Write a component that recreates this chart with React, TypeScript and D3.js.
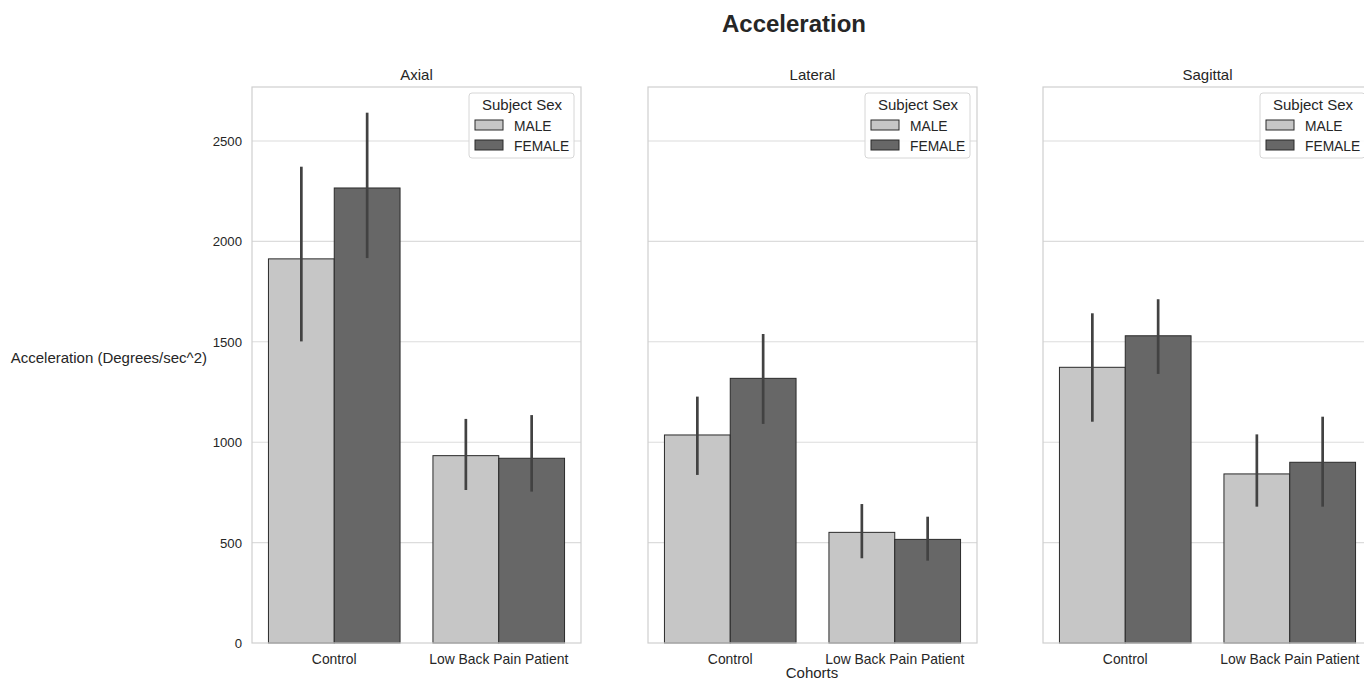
import React from "react";
import * as d3 from "d3";

const panels = ["Axial", "Lateral", "Sagittal"];
const cohorts = ["Control", "Low Back Pain Patient"];
const sexes = ["MALE", "FEMALE"];
const sexColors = ["#c6c6c6", "#676767"];
const yTicks = [0, 500, 1000, 1500, 2000, 2500];

// means[panel][cohort][sex]
const axialMeans = [[1913, 2266], [933, 920]];
const lateralMeans = [[1036, 1318], [551, 516]];
const sagittalMeans = [[1373, 1530], [842, 900]];
// CI low/high [cohort][sex]
const axialCiLow = [[1502, 1917], [762, 754]];
const axialCiHigh = [[2372, 2641], [1116, 1135]];
const lateralCiLow = [[837, 1091], [422, 410]];
const lateralCiHigh = [[1227, 1539], [692, 629]];
const sagittalCiLow = [[1102, 1340], [679, 679]];
const sagittalCiHigh = [[1642, 1712], [1039, 1127]];

const means = [axialMeans, lateralMeans, sagittalMeans];
const ciLow = [axialCiLow, lateralCiLow, sagittalCiLow];
const ciHigh = [axialCiHigh, lateralCiHigh, sagittalCiHigh];

const W = 1364;
const H = 681;
const panelLefts = [252, 648, 1043];
const panelW = 329;
const top = 87;
const bottom = 643;
const FONT = "'Liberation Sans', Arial, Helvetica, sans-serif";

export default function App() {
  const y = d3.scaleLinear().domain([0, 2500]).range([bottom, 141]);
  return (
    <svg width={W} height={H} style={{ position: "absolute", left: 0, top: 0, display: "block" }} fontFamily={FONT}>
      <rect x={0} y={0} width={W} height={H} fill="#ffffff" />
      <text x={794} y={32} textAnchor="middle" fontSize={24} fontWeight="bold" fill="#262626">Acceleration</text>
      {panels.map((p, pi) => {
        const x0 = panelLefts[pi];
        const xb = d3.scaleBand().domain(cohorts).range([x0, x0 + panelW]);
        const xs = d3.scaleBand().domain(sexes).range([0, xb.bandwidth() * 0.8]);
        return (
          <g key={p}>
            {yTicks.slice(1).map((t) => (
              <line key={t} x1={x0} x2={x0 + panelW} y1={y(t)} y2={y(t)} stroke="#dcdcdc" strokeWidth={1.1} />
            ))}
            {cohorts.map((c, ci) =>
              sexes.map((s, si) => {
                const bx = (xb(c) as number) + xb.bandwidth() * 0.1 + (xs(s) as number);
                const v = means[pi][ci][si];
                const cx = bx + xs.bandwidth() / 2;
                return (
                  <g key={c + s}>
                    <rect x={bx} y={y(v)} width={xs.bandwidth()} height={y(0) - y(v)} fill={sexColors[si]} stroke="#2a2a2a" strokeWidth={1} />
                    <line x1={cx} x2={cx} y1={y(ciLow[pi][ci][si])} y2={y(ciHigh[pi][ci][si])} stroke="#424242" strokeWidth={2.7} />
                  </g>
                );
              })
            )}
            <rect x={x0} y={top} width={panelW} height={bottom - top} fill="none" stroke="#cfcfcf" strokeWidth={1.2} />
            <text x={x0 + panelW / 2} y={80} textAnchor="middle" fontSize={15} fill="#262626">{p}</text>
            {cohorts.map((c) => (
              <text key={c} x={(xb(c) as number) + xb.bandwidth() / 2} y={664} textAnchor="middle" fontSize={13.9} fill="#262626">{c}</text>
            ))}
            {pi === 0 &&
              yTicks.map((t) => (
                <text key={t} x={242} y={y(t) + 5} textAnchor="end" fontSize={13.2} fill="#262626">{t}</text>
              ))}
            <g transform={`translate(${x0 + panelW - 112},93)`}>
              <rect x={0} y={0} width={105} height={65} rx={3} fill="#ffffff" fillOpacity={0.85} stroke="#d6d6d6" strokeWidth={1} />
              <text x={53} y={17} textAnchor="middle" fontSize={15} fill="#262626">Subject Sex</text>
              {sexes.map((s, si) => (
                <g key={s} transform={`translate(0,${27 + si * 20})`}>
                  <rect x={6} y={0} width={28} height={10} fill={sexColors[si]} stroke="#2a2a2a" strokeWidth={1} />
                  <text x={45} y={10.5} fontSize={13.8} fill="#262626">{s}</text>
                </g>
              ))}
            </g>
          </g>
        );
      })}
      <text x={207} y={363} textAnchor="end" fontSize={15} fill="#262626">Acceleration (Degrees/sec^2)</text>
      <text x={812} y={678} textAnchor="middle" fontSize={15} fill="#262626">Cohorts</text>
    </svg>
  );
}
